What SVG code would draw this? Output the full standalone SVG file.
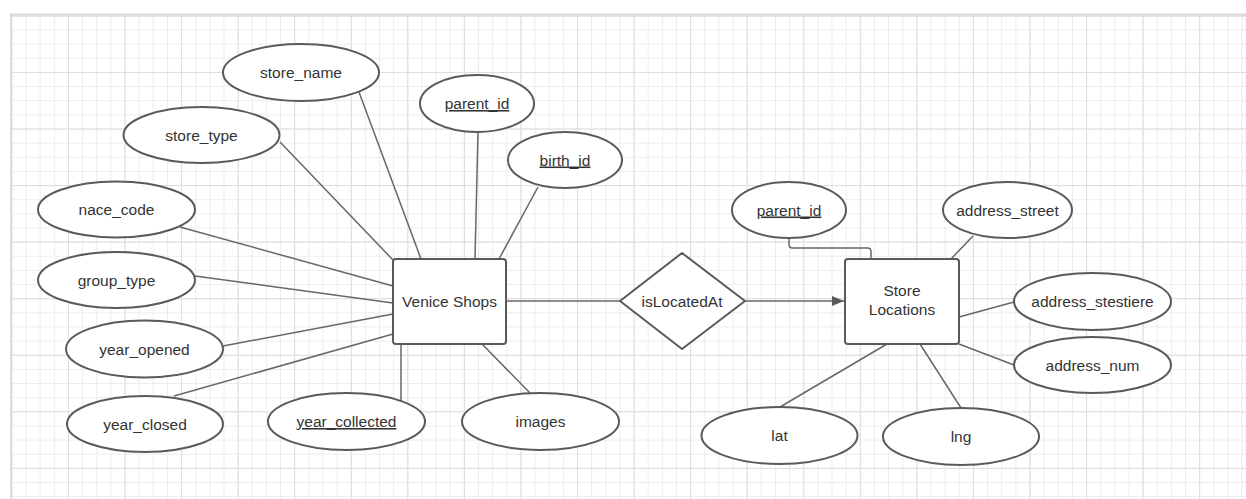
<svg xmlns="http://www.w3.org/2000/svg" width="1246" height="499" viewBox="0 0 1246 499">
<defs>
<pattern id="minor" patternUnits="userSpaceOnUse" x="11.4" y="15.4" width="14.14" height="14.14">
<path d="M0 0.5 H14.14 M0.5 0 V14.14" fill="none" stroke="#ececec" stroke-width="1"/>
</pattern>
<pattern id="major" patternUnits="userSpaceOnUse" x="11.4" y="15.4" width="56.56" height="56.56">
<path d="M0 0.5 H56.56 M0.5 0 V56.56" fill="none" stroke="#dddddd" stroke-width="1"/>
</pattern>
<marker id="arrow" markerWidth="12" markerHeight="10" refX="12" refY="5" orient="auto" markerUnits="userSpaceOnUse">
<path d="M0 0 L12 5 L0 10 Z" fill="#5a5a5a"/>
</marker>
</defs>
<style>
.shape{fill:#ffffff;stroke:#5a5a5a;stroke-width:2;stroke-linejoin:round}
.conn{fill:none;stroke:#676767;stroke-width:1.5}
.lbl{font-family:"Liberation Sans",Arial,sans-serif;font-size:15.5px;fill:#333333;text-anchor:middle}
.key{text-decoration:underline}
</style>
<rect x="0" y="0" width="1246" height="499" fill="#ffffff"/>
<rect x="10" y="14" width="1236" height="485" fill="url(#minor)"/>
<rect x="10" y="14" width="1236" height="485" fill="url(#major)"/>
<path d="M10 15 H1246" stroke="#dcdcdc" stroke-width="3"/>
<path d="M10.8 14 V499" stroke="#dcdcdc" stroke-width="1.6"/>

<g id="connectors">
<line class="conn" x1="359" y1="92" x2="421" y2="259"/>
<line class="conn" x1="280" y1="142" x2="393" y2="260"/>
<line class="conn" x1="478" y1="132" x2="475" y2="259"/>
<line class="conn" x1="538" y1="187" x2="499" y2="259"/>
<line class="conn" x1="180" y1="227" x2="393" y2="286"/>
<line class="conn" x1="195" y1="276" x2="393" y2="303"/>
<line class="conn" x1="223" y1="346" x2="393" y2="314"/>
<line class="conn" x1="174" y1="396" x2="393" y2="334"/>
<line class="conn" x1="401" y1="344" x2="401" y2="401"/>
<line class="conn" x1="482" y1="344" x2="530" y2="393"/>
<line class="conn" x1="506" y1="301" x2="620" y2="301"/>
<line class="conn" x1="745" y1="301" x2="844" y2="301" marker-end="url(#arrow)"/>
<path class="conn" d="M789 238 V244.5 Q789 248 792.5 248 H867.5 Q871 248 871 251.5 V259"/>
<line class="conn" x1="973" y1="236" x2="951" y2="259"/>
<line class="conn" x1="1014" y1="302" x2="959" y2="317"/>
<line class="conn" x1="959" y1="344" x2="1014" y2="365"/>
<line class="conn" x1="887" y1="344" x2="780" y2="407"/>
<line class="conn" x1="920" y1="344" x2="961" y2="408"/>
</g>

<g id="venice_shops">
<rect class="shape" x="393" y="259" width="113" height="85" rx="3"/>
<text class="lbl" x="449.5" y="307">Venice Shops</text>
</g>
<g id="is_located_at">
<path class="shape" d="M682 253 L745 301 L682 349 L620 301 Z"/>
<text class="lbl" x="682" y="306.5">isLocatedAt</text>
</g>
<g id="store_locations">
<rect class="shape" x="845" y="259" width="114" height="85" rx="3"/>
<text class="lbl" x="902" y="296">Store</text>
<text class="lbl" x="902" y="315">Locations</text>
</g>

<g id="attr_store_name">
<ellipse class="shape" cx="301" cy="72.5" rx="78" ry="28.5"/>
<text class="lbl" x="301" y="78">store_name</text>
</g>
<g id="attr_store_type">
<ellipse class="shape" cx="201.5" cy="135" rx="78" ry="28"/>
<text class="lbl" x="201.5" y="140.5">store_type</text>
</g>
<g id="attr_parent_id_1">
<ellipse class="shape" cx="477" cy="103.5" rx="57" ry="28.5"/>
<text class="lbl key" x="477" y="109">parent_id</text>
</g>
<g id="attr_birth_id">
<ellipse class="shape" cx="565" cy="160" rx="57" ry="28"/>
<text class="lbl key" x="565" y="165.5">birth_id</text>
</g>
<g id="attr_nace_code">
<ellipse class="shape" cx="116.5" cy="209.5" rx="78.5" ry="28"/>
<text class="lbl" x="116.5" y="215">nace_code</text>
</g>
<g id="attr_group_type">
<ellipse class="shape" cx="116.5" cy="280" rx="78.5" ry="28"/>
<text class="lbl" x="116.5" y="285.5">group_type</text>
</g>
<g id="attr_year_opened">
<ellipse class="shape" cx="144.5" cy="349" rx="78.5" ry="28.5"/>
<text class="lbl" x="144.5" y="354.5">year_opened</text>
</g>
<g id="attr_year_closed">
<ellipse class="shape" cx="145" cy="424" rx="78" ry="28"/>
<text class="lbl" x="145" y="429.5">year_closed</text>
</g>
<g id="attr_year_collected">
<ellipse class="shape" cx="346.5" cy="421.5" rx="78.5" ry="28.5"/>
<text class="lbl key" x="346.5" y="427">year_collected</text>
</g>
<g id="attr_images">
<ellipse class="shape" cx="540.5" cy="421.5" rx="78.5" ry="28.5"/>
<text class="lbl" x="540.5" y="427">images</text>
</g>
<g id="attr_parent_id_2">
<ellipse class="shape" cx="789" cy="210" rx="57" ry="28"/>
<text class="lbl key" x="789" y="215.5">parent_id</text>
</g>
<g id="attr_address_street">
<ellipse class="shape" cx="1007.5" cy="210" rx="64.5" ry="28"/>
<text class="lbl" x="1007.5" y="215.5">address_street</text>
</g>
<g id="attr_address_stestiere">
<ellipse class="shape" cx="1092.5" cy="301.5" rx="78.5" ry="28.5"/>
<text class="lbl" x="1092.5" y="307">address_stestiere</text>
</g>
<g id="attr_address_num">
<ellipse class="shape" cx="1092.5" cy="365" rx="78.5" ry="28"/>
<text class="lbl" x="1092.5" y="370.5">address_num</text>
</g>
<g id="attr_lat">
<ellipse class="shape" cx="779.5" cy="435.5" rx="78" ry="28.5"/>
<text class="lbl" x="779.5" y="441">lat</text>
</g>
<g id="attr_lng">
<ellipse class="shape" cx="961" cy="436.5" rx="78" ry="28.5"/>
<text class="lbl" x="961" y="442">lng</text>
</g>
</svg>
